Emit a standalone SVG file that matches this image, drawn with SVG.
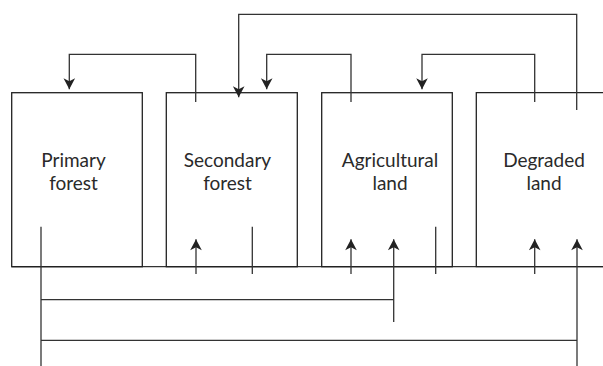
<svg xmlns="http://www.w3.org/2000/svg" width="603" height="366" viewBox="0 0 603 366">
<style>
.box{fill:none;stroke:#222;stroke-width:1.3}
.ln{fill:none;stroke:#333;stroke-width:1.3}
.arr{fill:none;stroke:#333;stroke-width:1.3;marker-end:url(#ah)}
text{font-family:Lato,"Open Sans",sans-serif;font-size:19px;fill:#2a2a2a;text-anchor:middle}
</style>
<defs>
<marker id="ah" markerUnits="userSpaceOnUse" markerWidth="14" markerHeight="14" viewBox="-12 -7 14 14" refX="0" refY="0" orient="auto">
<path d="M0,0 L-11,-5.8 L-8,0 L-11,5.8 Z" fill="#222"/>
</marker>
</defs>
<g id="baseline"><path class="ln" d="M11.7,266.7 H603"/></g>
<g id="primary">
<rect class="box" x="11.7" y="92.7" width="130.6" height="174"/>
<text x="73.5" y="167">Primary</text>
<text x="73.5" y="190">forest</text>
</g>
<g id="secondary">
<rect class="box" x="166.3" y="92.7" width="131" height="174"/>
<text x="227.5" y="167">Secondary</text>
<text x="227.5" y="190">forest</text>
</g>
<g id="agricultural">
<rect class="box" x="321.7" y="92.7" width="130.6" height="174"/>
<text x="390" y="167">Agricultural</text>
<text x="390" y="190">land</text>
</g>
<g id="degraded">
<path class="box" d="M603,92.7 H476.3 V266.7 H603"/>
<text x="544" y="167">Degraded</text>
<text x="544" y="190">land</text>
</g>
<g id="connectors">
<path class="arr" d="M195.7,102 V54.3 H69.3 V89.3"/>
<path class="arr" d="M576.7,110 V14.3 H238.7 V97.3"/>
<path class="arr" d="M351,102 V54.3 H266.7 V89.3"/>
<path class="arr" d="M534.7,102 V54.3 H422 V89.3"/>
<path class="arr" d="M196,274 V239.3"/>
<path class="ln" d="M252.3,226.7 V274"/>
<path class="arr" d="M351,274 V239.3"/>
<path class="ln" d="M41,226.7 V366"/>
<path class="ln" d="M41,299.7 H393.7"/>
<path class="arr" d="M393.7,322 V239.3"/>
<path class="ln" d="M435.7,226.7 V274"/>
<path class="arr" d="M534.7,274 V239.3"/>
<path class="ln" d="M41,340.3 H577"/>
<path class="arr" d="M577,366 V239.3"/>
</g>
</svg>
